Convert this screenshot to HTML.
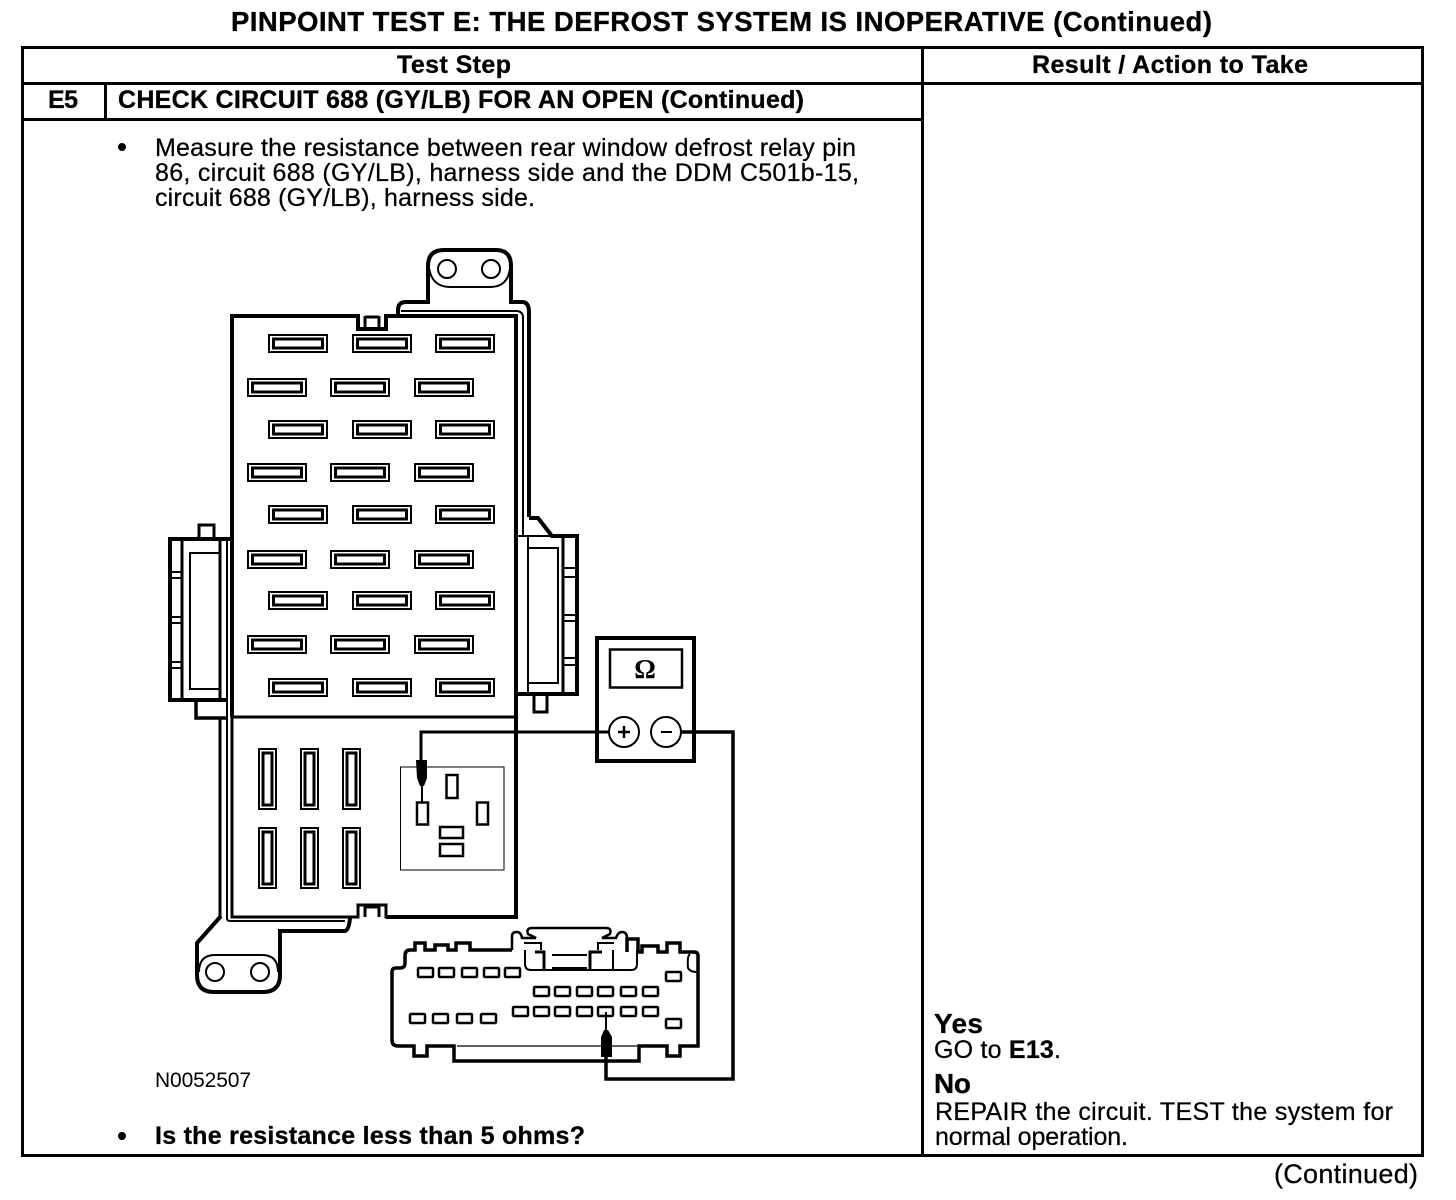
<!DOCTYPE html>
<html><head><meta charset="utf-8"><style>
html,body{margin:0;padding:0;background:#fff}
svg{display:block}
text{font-family:"Liberation Sans",sans-serif;fill:#000}
.b{font-weight:bold;stroke:#000;stroke-width:.3}
.r{stroke:#000;stroke-width:.25}
</style></head><body>
<svg width="1456" height="1200" viewBox="0 0 1456 1200" xmlns="http://www.w3.org/2000/svg" xmlns:xlink="http://www.w3.org/1999/xlink">
<defs>
<g id="s"><rect x="1" y="1" width="58" height="17" fill="#fff" stroke="#000" stroke-width="2"/><rect x="5.5" y="5" width="49" height="9" fill="#fff" stroke="#000" stroke-width="3"/></g>
<g id="v"><rect x="1" y="1" width="17" height="60" fill="#fff" stroke="#000" stroke-width="2"/><rect x="5" y="5" width="9" height="52" fill="#fff" stroke="#000" stroke-width="3"/></g>
<rect id="p" width="15" height="9" rx="1" fill="#fff" stroke="#000" stroke-width="2.5"/>
</defs>
<rect width="1456" height="1200" fill="#fff"/>

<!-- table -->
<g fill="none" stroke="#000" stroke-width="3">
<rect x="22.5" y="47.5" width="1400" height="1108"/>
<path d="M22 83.5H1422M22 119.5H922M105.5 83V119M922.5 47V1155"/>
</g>

<!-- header text -->
<text class="b" x="231" y="31" font-size="27.5" textLength="981">PINPOINT TEST E: THE DEFROST SYSTEM IS INOPERATIVE (Continued)</text>
<text class="b" x="397" y="73" font-size="25" textLength="114">Test Step</text>
<text class="b" x="1032" y="73" font-size="25" textLength="276">Result / Action to Take</text>
<text class="b" x="48" y="108" font-size="25" textLength="30">E5</text>
<text class="b" x="118" y="108" font-size="25" textLength="686">CHECK CIRCUIT 688 (GY/LB) FOR AN OPEN (Continued)</text>
<circle cx="122" cy="147" r="4"/>
<text class="r" x="155" y="156" font-size="25" textLength="701">Measure the resistance between rear window defrost relay pin</text>
<text class="r" x="155" y="181" font-size="25" textLength="704">86, circuit 688 (GY/LB), harness side and the DDM C501b-15,</text>
<text class="r" x="155" y="206" font-size="25" textLength="380">circuit 688 (GY/LB), harness side.</text>
<text x="155" y="1087" font-size="21" textLength="96">N0052507</text>
<circle cx="122" cy="1136" r="4"/>
<text class="b" x="155" y="1144" font-size="25" textLength="430">Is the resistance less than 5 ohms?</text>
<text class="b" x="934" y="1033" font-size="28" textLength="49">Yes</text>
<text class="r" x="934" y="1058" font-size="25" textLength="127">GO to <tspan font-weight="bold">E13</tspan>.</text>
<text class="b" x="934" y="1093" font-size="28" textLength="37">No</text>
<text class="r" x="935" y="1120" font-size="25" textLength="458">REPAIR the circuit. TEST the system for</text>
<text class="r" x="935" y="1145" font-size="25" textLength="193">normal operation.</text>
<text class="r" x="1274" y="1183" font-size="27" textLength="144">(Continued)</text>

<!-- fuse box outlines -->
<g fill="none" stroke="#000">
<!-- top bracket -->
<path stroke-width="4" d="M398 316V310Q398 302 406 302H428V266Q428 250 444 250H496Q511 250 511 266V302H522Q529 302 529 312V517"/>
<path stroke-width="2" d="M429 268Q432 287 450 287H490Q508 287 510 268"/>
<circle cx="447" cy="269" r="9" stroke-width="2"/><circle cx="491" cy="269" r="9" stroke-width="2"/>
<path stroke-width="2" d="M401 311H516Q523 311 523 318V535"/>
<!-- main box -->
<path stroke-width="4" d="M232 717V316H358V329H386V316H516V918"/>
<path stroke-width="3" d="M365 327V316M379 327V316M365 317H379"/>
<path stroke-width="3" d="M232 717V917H358V905H386V917H518"/>
<path stroke-width="4" d="M386 917H518"/>
<path stroke-width="3" d="M365 917V907H379V917"/>
<path stroke-width="3" d="M232 717H516"/>
<!-- left double wall -->
<path stroke-width="3" d="M220 538V700M220 718V917"/>
<path stroke-width="2" d="M227 538V918Q227 921 230 921H345"/>
<!-- bottom bracket -->
<path stroke-width="4" d="M221 916L197 943V975Q197 992 214 992H263Q280 992 280 975V931H345Q349 930 350 918"/>
<path stroke-width="2" d="M199 972Q199 955 215 955H262Q278 955 278 972"/>
<circle cx="215" cy="972" r="9" stroke-width="2"/><circle cx="260" cy="972" r="9" stroke-width="2"/>
<!-- left connector -->
<path stroke-width="4" d="M232 539H170V700H228"/>
<path stroke-width="3" d="M182 539V700"/>
<path stroke-width="2" d="M219 553H190V689H219"/>
<path stroke-width="3" d="M199 538V525H214V538"/>
<path stroke-width="3.5" d="M196 701V718H226"/>
<path stroke-width="2" d="M169 572H182M169 578H182M169 617H182M169 623H182M169 662H182M169 668H182"/>
<!-- right connector -->
<path stroke-width="4" d="M529 518H538L552 536H577V694H516"/>
<path stroke-width="2" d="M518 536H578"/>
<path stroke-width="2" d="M528 536V694"/>
<path stroke-width="3" d="M563 536V694"/>
<path stroke-width="2" d="M528 548H558V683H528"/>
<path stroke-width="3" d="M534 695V712H547V695"/>
<path stroke-width="2" d="M563 568H577M563 577H577M563 615H577M563 621H577M563 658H577M563 665H577"/>
</g>

<!-- slots -->
<use xlink:href="#s" href="#s" x="268" y="334"/><use xlink:href="#s" href="#s" x="352" y="334"/><use xlink:href="#s" href="#s" x="435" y="334"/>
<use xlink:href="#s" href="#s" x="247" y="378"/><use xlink:href="#s" href="#s" x="330" y="378"/><use xlink:href="#s" href="#s" x="414" y="378"/>
<use xlink:href="#s" href="#s" x="268" y="420"/><use xlink:href="#s" href="#s" x="352" y="420"/><use xlink:href="#s" href="#s" x="435" y="420"/>
<use xlink:href="#s" href="#s" x="247" y="463"/><use xlink:href="#s" href="#s" x="330" y="463"/><use xlink:href="#s" href="#s" x="414" y="463"/>
<use xlink:href="#s" href="#s" x="268" y="505"/><use xlink:href="#s" href="#s" x="352" y="505"/><use xlink:href="#s" href="#s" x="435" y="505"/>
<use xlink:href="#s" href="#s" x="247" y="550"/><use xlink:href="#s" href="#s" x="330" y="550"/><use xlink:href="#s" href="#s" x="414" y="550"/>
<use xlink:href="#s" href="#s" x="268" y="591"/><use xlink:href="#s" href="#s" x="352" y="591"/><use xlink:href="#s" href="#s" x="435" y="591"/>
<use xlink:href="#s" href="#s" x="247" y="635"/><use xlink:href="#s" href="#s" x="330" y="635"/><use xlink:href="#s" href="#s" x="414" y="635"/>
<use xlink:href="#s" href="#s" x="268" y="678"/><use xlink:href="#s" href="#s" x="352" y="678"/><use xlink:href="#s" href="#s" x="435" y="678"/>
<use xlink:href="#v" href="#v" x="258" y="748"/><use xlink:href="#v" href="#v" x="300" y="748"/><use xlink:href="#v" href="#v" x="342" y="748"/>
<use xlink:href="#v" href="#v" x="258" y="827"/><use xlink:href="#v" href="#v" x="300" y="827"/><use xlink:href="#v" href="#v" x="342" y="827"/>

<!-- relay socket -->
<g fill="#fff" stroke="#000">
<rect x="400.5" y="767" width="103.5" height="103" stroke-width="1"/>
<rect x="446.5" y="775" width="11" height="23" stroke-width="2.5"/>
<rect x="477" y="802.5" width="11" height="22" stroke-width="2.5"/>
<rect x="417" y="802.5" width="11" height="22" stroke-width="2.5"/>
<rect x="440" y="827" width="23" height="11" stroke-width="2.5"/>
<rect x="440" y="844" width="23" height="12" stroke-width="2.5"/>
</g>

<!-- multi-pin connector -->
<g fill="none" stroke="#000">
<path stroke-width="3.5" d="M512 950H470V943H456V950H448V945H435V950H425V943H415V950H410Q405 950 405 956V963Q405 968 400 968H396Q392 968 392 972V1040Q392 1046 398 1046H414V1056H427V1046H454V1061H639V1046H667V1056H680V1046H698V956Q698 952 694 952H680V943H667V952H658V946H642V952H638V939H627V952"/>
<path stroke-width="2.5" d="M512 950V936Q512 932 517 932Q521 932 522 938H536L528 934Q526 928 532 928H606Q612 928 610 934L602 938H616Q618 932 622 932Q627 932 627 938V952"/>
<path stroke-width="2" d="M525 950V964Q525 970 531 970H631Q637 970 637 964V950"/>
<path stroke-width="2" d="M524 943H541V950M614 943H598V950"/>
<path stroke-width="2" d="M552 955H587M552 968H587"/>
<path stroke-width="3" d="M535 952H544V970M590 970V952H602"/>
<path stroke-width="2" d="M613 950V970"/>
<path stroke-width="2" d="M690 954Q687 956 688 968Q690 972 697 972"/>
<path stroke-width="1.2" d="M457 1046H637"/>
</g>
<g>
<use xlink:href="#p" href="#p" x="418" y="968"/><use xlink:href="#p" href="#p" x="439" y="968"/><use xlink:href="#p" href="#p" x="462" y="968"/><use xlink:href="#p" href="#p" x="484" y="968"/><use xlink:href="#p" href="#p" x="505" y="968"/>
<use xlink:href="#p" href="#p" x="534" y="987"/><use xlink:href="#p" href="#p" x="555" y="987"/><use xlink:href="#p" href="#p" x="577" y="987"/><use xlink:href="#p" href="#p" x="598" y="987"/><use xlink:href="#p" href="#p" x="621" y="987"/><use xlink:href="#p" href="#p" x="643" y="987"/>
<use xlink:href="#p" href="#p" x="513" y="1007"/><use xlink:href="#p" href="#p" x="534" y="1007"/><use xlink:href="#p" href="#p" x="555" y="1007"/><use xlink:href="#p" href="#p" x="577" y="1007"/><use xlink:href="#p" href="#p" x="598" y="1007"/><use xlink:href="#p" href="#p" x="621" y="1007"/><use xlink:href="#p" href="#p" x="643" y="1007"/>
<use xlink:href="#p" href="#p" x="410" y="1014"/><use xlink:href="#p" href="#p" x="433" y="1014"/><use xlink:href="#p" href="#p" x="457" y="1014"/><use xlink:href="#p" href="#p" x="481" y="1014"/>
<use xlink:href="#p" href="#p" x="666" y="972"/><use xlink:href="#p" href="#p" x="666" y="1019"/>
</g>

<!-- wires and probes -->
<g fill="none" stroke="#000">
<path stroke-width="3" d="M421 762V732H609"/>
<path stroke-width="3.5" d="M681 732H733V1079H606V1056"/>
<path stroke-width="2" d="M422 785V803M606 1012V1031"/>
</g>
<path d="M416 760H427V778L424 786H420L417 778Z"/>
<path d="M601 1057H612V1037L608 1030H604L601 1037Z"/>

<!-- meter -->
<g stroke="#000">
<rect x="597" y="638" width="97" height="123" fill="none" stroke-width="4"/>
<rect x="610" y="649.5" width="72" height="38" fill="#fff" stroke-width="2.5"/>
<circle cx="624" cy="732" r="15" fill="#fff" stroke-width="2"/>
<circle cx="666" cy="732" r="15" fill="#fff" stroke-width="2"/>
<path d="M618 732H630M624 726V738" stroke-width="2.5"/>
<path d="M661 732H672" stroke-width="2"/>
</g>
<text x="645" y="678" font-size="27" text-anchor="middle" font-weight="bold" style="font-family:'Liberation Serif',serif">Ω</text>
</svg>
</body></html>
